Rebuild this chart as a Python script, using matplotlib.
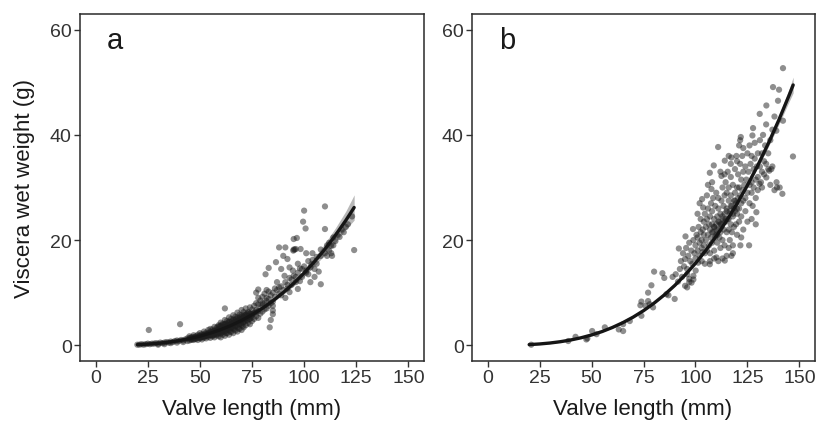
import matplotlib
matplotlib.use("Agg")
import matplotlib.pyplot as plt

plt.rcParams['font.family'] = ['Liberation Sans', 'DejaVu Sans']

# panel a: scatter (valve length mm, viscera wet weight g)
a_x = [20, 21, 22, 23, 24, 25, 26, 27, 28, 29, 30, 31, 32, 33, 34, 35, 36, 37, 38, 39, 40, 41, 42, 43, 44,
       30, 33, 36, 39, 42, 44, 25.5, 40.5,
       45, 45, 45, 46, 46, 47, 47, 47, 48, 48, 49, 49, 49, 50, 50, 50, 51, 51, 51, 52, 52, 52,
       53, 53, 53, 54, 54, 54, 55, 55, 55, 55, 56, 56, 56, 57, 57, 57, 57, 58, 58, 58,
       59, 59, 59, 59, 60, 60, 60, 60, 60, 61, 61, 61, 61, 62, 62, 62, 62, 62, 63, 63, 63, 63,
       64, 64, 64, 64, 64, 65, 65, 65, 65, 66, 66, 66, 66, 66, 67, 67, 67, 67, 68, 68, 68, 68, 68,
       69, 69, 69, 69, 70, 70, 70, 70, 70, 71, 71, 71, 71, 72, 72, 72, 72, 73, 73, 73, 74, 74, 74, 74,
       75, 75, 75, 76, 76, 76, 77, 77, 77, 78, 78, 78, 78, 79, 79, 79, 80, 80, 80, 81, 81, 81, 82, 82,
       83, 83, 83, 62,
       50.5, 51.5, 52.5, 53.5, 54.5, 55.5, 56.5, 57.5, 58.5, 59.5, 60.5, 61.5, 62.5, 63.5, 64.5, 65.5,
       66.5, 67.5, 68.5, 69.5, 70.5, 71.5, 72.5, 73.5, 74.5, 56.5, 58.5, 60.5, 62.5, 64.5, 66.5, 68.5, 70.5,
       45.25, 46.25, 47.25, 48.25, 49.25, 50.25, 51.25, 52.25, 53.25, 54.25, 55.25, 56.25, 57.25, 58.25,
       59.25, 60.25, 61.25, 62.25, 63.25, 64.25, 65.25, 66.25, 67.25, 68.25, 69.25, 70.25, 71.25, 72.25,
       73.25, 74.25, 75.25, 76.25, 77.25,
       45.75, 46.75, 47.75, 48.75, 49.75, 50.75, 51.75, 52.75, 53.75, 54.75, 55.75, 56.75, 57.75, 58.75,
       59.75, 60.75, 61.75, 62.75, 63.75, 64.75, 65.75, 66.75, 67.75, 68.75, 69.75, 70.75, 71.75, 72.75,
       73.75, 74.75,
       58.5, 59.5, 60.5, 61.5, 62.5, 63.5, 64.5, 65.5, 66.5, 67.5, 68.5, 69.5, 70.5, 71.5, 72.5, 73.5,
       77, 78, 81.5, 83, 86.5, 88, 91, 95, 96.5, 95, 96, 98.3, 100, 99.5, 100.7, 110, 110, 108, 124,
       113, 113.4, 103.5, 105, 83.5, 84, 85, 85, 85, 85, 90, 92, 90.6, 94.6, 97, 93, 87, 88, 89, 91,
       92, 94, 96, 98, 99, 101, 102, 104, 106, 107, 108, 112, 114, 116, 118, 120, 105, 103, 101, 97,
       93, 89, 86, 84, 82, 80, 82, 84, 85, 86, 87, 88, 89, 90, 91, 92, 93, 94, 95, 96, 97, 98, 99, 100,
       101, 102, 103, 104, 106, 108, 110, 111, 112, 113, 115, 117, 119, 121, 123, 111, 114, 95.5, 94.8]
a_y = [0.1, 0.1, 0.2, 0.1, 0.2, 0.3, 0.2, 0.3, 0.3, 0.4, 0.3, 0.5, 0.4, 0.5, 0.6, 0.5, 0.7, 0.6, 0.8, 0.9, 0.8, 1.0, 0.9, 1.1, 1.3,
       0.1, 0.2, 0.4, 0.5, 0.6, 0.8, 2.9, 4.0,
       0.9, 1.3, 1.7, 1.1, 1.5, 1.0, 1.4, 1.9, 1.2, 1.7, 1.0, 1.5, 2.0, 1.3, 1.8, 2.3, 1.1, 1.6, 2.1, 1.4, 2.0, 2.6,
       1.3, 1.8, 2.4, 1.6, 2.2, 2.9, 1.4, 2.0, 2.6, 3.1, 1.7, 2.4, 3.0, 1.5, 2.2, 2.8, 3.5, 1.9, 2.6, 3.3,
       1.7, 2.4, 3.0, 3.8, 1.5, 2.2, 2.9, 3.6, 4.3, 2.0, 2.7, 3.4, 4.1, 1.8, 2.6, 3.3, 4.0, 4.8, 2.3, 3.0, 3.8, 4.6,
       2.0, 2.9, 3.7, 4.5, 5.3, 2.5, 3.3, 4.1, 5.0, 2.3, 3.2, 4.0, 4.9, 5.7, 2.8, 3.7, 4.5, 5.4, 2.6, 3.5, 4.4, 5.3, 6.2,
       3.1, 4.0, 4.9, 5.8, 2.9, 3.9, 4.8, 5.7, 6.7, 3.4, 4.4, 5.4, 6.3, 3.8, 4.8, 5.8, 7.0, 4.2, 5.3, 6.3, 4.0, 5.0, 6.0, 7.2,
       4.6, 5.7, 6.8, 5.0, 6.2, 7.5, 5.5, 6.7, 8.0, 5.2, 6.5, 7.8, 9.0, 6.0, 7.2, 8.5, 6.4, 7.6, 9.2, 6.8, 8.0, 9.8, 7.0, 8.4,
       7.5, 8.8, 10.2, 7.0,
       1.5, 1.8, 1.7, 2.1, 1.9, 2.3, 2.7, 2.5, 3.0, 2.8, 3.3, 3.1, 3.6, 3.4, 4.0, 3.8, 4.4, 4.2, 4.8, 4.6, 5.2, 5.0, 5.6,
       5.4, 6.0, 1.9, 2.1, 2.4, 2.3, 2.6, 3.0, 3.2, 3.6,
       1.35, 1.45, 1.55, 1.6, 1.7, 1.8, 1.9, 2.05, 2.15, 2.25, 2.4, 2.5, 2.65, 2.8, 2.9, 3.05, 3.2, 3.35, 3.5,
       3.7, 3.85, 4.05, 4.2, 4.4, 4.6, 4.8, 5.0, 5.2, 5.45, 5.65, 5.9, 6.1, 6.35,
       1.05, 1.15, 1.25, 1.35, 1.45, 1.5, 1.6, 1.75, 1.85, 1.95, 1.9, 2.0, 2.15, 2.3, 2.4, 2.55, 2.7, 2.9, 3.05,
       3.2, 3.4, 3.55, 3.75, 3.95, 4.15, 4.35, 4.55, 4.75, 5.0, 5.2,
       3.5, 3.65, 3.8, 3.95, 4.1, 4.25, 4.4, 4.6, 4.8, 5.0, 5.15, 5.35, 5.55, 5.75, 6.0, 6.2,
       10.0, 10.6, 13.5, 14.7, 15.8, 18.6, 18.6, 20.2, 20.4, 18.2, 18.3, 18.3, 25.6, 23.5, 22.2, 26.4, 22.1, 11.6, 18.1,
       18.9, 17.0, 15.4, 14.5, 3.4, 4.8, 5.9, 6.6, 7.5, 8.3, 17.0, 16.4, 13.2, 14.2, 10.7, 10.1, 12.0, 11.0, 9.5, 9.0,
       11.5, 12.5, 13.0, 12.2, 14.5, 13.8, 16.0, 17.5, 15.5, 14.0, 17.0, 19.5, 20.5, 21.0, 22.0, 22.5, 13.0, 12.0, 17.5, 15.5,
       14.8, 14.5, 10.8, 9.5, 10.5, 8.0, 9.0, 8.0, 10.0, 9.2, 10.5, 9.8, 11.2, 10.5, 12.0, 10.8, 12.8, 11.5, 13.2, 12.0, 13.8, 14.6, 13.0, 15.0,
       14.2, 13.5, 14.8, 16.2, 16.8, 18.2, 17.5, 19.0, 18.0, 17.5, 19.8, 20.6, 21.5, 23.0, 24.5, 17.0, 19.0, 18.2, 18.0]

# panel a: fitted curve and confidence band
a_fit_x = [20, 25, 30, 35, 40, 45, 50, 55, 60, 65, 70, 75, 80, 85, 90, 95, 100, 105, 110, 115, 120, 124]
a_fit_y = [0.11, 0.21, 0.37, 0.59, 0.88, 1.25, 1.72, 2.29, 2.97, 3.77, 4.71, 5.80, 7.03, 8.44, 10.02, 11.78,
           13.74, 15.91, 18.29, 20.90, 23.74, 26.2]
a_lo = [0.0, 0.1, 0.27, 0.49, 0.78, 1.15, 1.62, 2.19, 2.87, 3.67, 4.6, 5.65, 6.8, 8.15, 9.65, 11.3,
        13.1, 15.1, 17.2, 19.5, 22.0, 23.8]
a_hi = [0.22, 0.32, 0.47, 0.69, 0.98, 1.35, 1.82, 2.39, 3.07, 3.87, 4.82, 5.95, 7.26, 8.73, 10.4, 12.26,
        14.38, 16.72, 19.38, 22.3, 25.5, 28.6]

# panel b: scatter
b_x = [21, 38.8, 42.3, 48, 47.5, 50.3, 52.4, 56.4, 63.1, 65.2, 65.2, 68.4, 74, 74, 73.5, 77.2, 77.2, 76, 78.8, 79.6,
       78, 80.1, 84.1, 85, 86, 87, 90, 91.6, 92, 95.2, 95, 95, 96, 98.1, 97, 98.8, 100.1, 99, 103.2, 103.7,
       106.9, 108.8, 107.7, 110.9, 112.5, 114.1, 117.3, 119.7, 121.8, 121.5, 127.4, 127.7, 130.9, 134.1, 137.3,
       140.2, 142.1, 139.7, 142.1, 138.9, 146.9, 140.5, 141.8, 139.2, 136.5, 135.5, 134.1, 130.8, 129.3, 125.8,
       121.6, 117.3, 114.1, 110.1, 106.9, 103.4, 101.3,
       93, 94, 94.5, 95.5, 96, 96.5, 97, 97.5, 98, 98.5, 99, 99.5, 100, 100, 100.5, 96, 97, 99, 93.5, 92.5, 90.5, 89,
       101, 101, 101.5, 102, 102, 102.5, 102.5, 103, 103, 103.5, 104, 104, 104, 104.5, 104.5, 105, 105, 101, 102, 103, 104.5,
       105.5, 105.5, 106, 106, 106.5, 106.5, 107, 107, 107, 107.5, 107.5, 108, 108, 108, 108.5, 108.5, 109, 109, 109,
       109.5, 109.5, 110, 110, 110, 105.5, 106, 108, 109, 107,
       110.5, 110.5, 111, 111, 111, 111.5, 111.5, 112, 112, 112, 112.5, 112.5, 113, 113, 113, 113.5, 113.5, 114, 114, 114,
       114.5, 114.5, 115, 115, 115, 112, 113, 115, 111, 114,
       115.5, 115.5, 116, 116, 116, 116.5, 116.5, 117, 117, 117, 117.5, 117.5, 118, 118, 118, 118.5, 118.5, 119, 119, 119,
       119.5, 119.5, 120, 120, 120, 116, 118, 120, 117, 116,
       120.5, 120.5, 121, 121, 121, 121.5, 121.5, 122, 122, 122, 122.5, 122.5, 123, 123, 123, 123.5, 124, 124, 124, 124.5,
       125, 125, 125, 121, 123, 122,
       125.5, 126, 126, 126, 126.5, 127, 127, 127, 127.5, 128, 128, 128.5, 128.5, 129, 129, 129.5, 130, 130, 130, 129, 127,
       131, 131, 131.5, 132, 132, 132.5, 133, 133, 133.5, 134, 134, 135, 135, 136, 137, 137, 138, 136, 132, 138, 139,
       108, 109, 110, 111, 112, 113, 114, 115, 116, 117, 118, 119, 120, 110.5, 112.5, 114.5, 116.5, 118.5]
b_y = [0.1, 0.8, 1.6, 1.3, 1.1, 2.7, 2.1, 3.4, 3.0, 2.7, 4.0, 4.6, 5.6, 8.3, 7.6, 10.0, 8.4, 7.5, 11.4, 7.2,
       7.8, 14.0, 13.7, 12.8, 9.7, 9.5, 8.8, 12.1, 18.4, 20.7, 16.4, 11.3, 11.0, 11.9, 12.6, 22.1, 14.2, 13.2, 27.8, 26.2,
       32.8, 34.2, 29.7, 37.7, 32.2, 35.1, 35.7, 36.0, 39.6, 39.0, 39.9, 41.3, 44.0, 45.6, 49.1,
       48.6, 52.7, 46.5, 42.7, 40.8, 35.9, 30.0, 28.8, 30.0, 33.5, 33.2, 31.9, 30.7, 25.3, 19.0,
       19.0, 17.0, 16.1, 16.7, 15.4, 17.7, 15.7,
       16.0, 17.5, 15.0, 18.5, 14.5, 17.0, 19.5, 16.0, 18.0, 15.5, 20.0, 17.5, 19.0, 16.5, 21.0, 13.5, 12.0, 12.5, 13.0, 14.5, 13.5, 13.0,
       18.0, 20.5, 22.5, 17.0, 19.5, 21.5, 24.0, 18.5, 20.0, 22.0, 19.0, 21.0, 23.5, 17.5, 25.0, 20.0, 22.5, 25.0, 27.0, 16.0, 15.5,
       18.0, 24.0, 21.0, 26.0, 19.0, 23.0, 22.0, 24.5, 17.5, 20.5, 27.0, 23.0, 19.5, 25.5, 21.5, 28.0, 22.5, 24.0, 18.0,
       20.5, 26.5, 23.0, 21.0, 29.0, 28.5, 30.5, 31.0, 16.5, 16.0,
       24.5, 19.5, 22.0, 26.0, 28.0, 20.5, 23.5, 25.0, 21.5, 18.5, 27.5, 23.0, 24.0, 20.0, 30.0, 22.0, 26.5, 25.0, 28.5, 19.0,
       23.5, 31.0, 21.5, 26.0, 29.0, 33.0, 16.5, 17.0, 16.0, 32.5,
       24.0, 33.0, 22.0, 27.5, 30.0, 20.0, 25.5, 23.0, 28.5, 32.0, 21.5, 26.5, 24.5, 30.5, 19.0, 27.5, 22.5, 25.5, 29.0, 33.5,
       23.0, 27.0, 30.0, 25.0, 21.0, 18.5, 17.5, 35.0, 34.5, 36.0,
       28.0, 32.5, 26.0, 23.5, 30.0, 34.5, 28.5, 27.0, 24.5, 31.5, 29.5, 36.0, 27.5, 33.0, 22.0, 30.5, 28.0, 25.5, 34.0, 31.5,
       29.0, 36.5, 23.5, 38.0, 37.5, 20.5,
       33.0, 30.5, 27.0, 38.0, 34.5, 31.0, 29.0, 36.0, 26.5, 33.5, 30.0, 35.5, 38.5, 31.5, 28.0, 34.0, 36.5, 32.0, 29.5, 23.0, 24.0,
       34.0, 39.0, 31.0, 36.5, 33.0, 40.0, 35.0, 32.5, 38.0, 34.5, 42.0, 36.5, 33.5, 39.0, 41.0, 34.0, 43.5, 30.5, 30.0, 29.5, 31.0,
       21.5, 22.5, 22.0, 23.5, 23.0, 24.5, 23.5, 25.5, 24.0, 26.5, 25.0, 27.5, 26.0, 21.0, 22.5, 24.0, 25.0, 26.0]

# panel b: fitted curve and confidence band
b_fit_x = [20, 25, 30, 35, 40, 45, 50, 55, 60, 65, 70, 75, 80, 85, 90, 95, 100, 105, 110, 115, 120, 125,
           130, 135, 140, 145, 147]
b_fit_y = [0.12, 0.24, 0.42, 0.67, 1.0, 1.42, 1.95, 2.59, 3.37, 4.28, 5.34, 6.57, 7.98, 9.57, 11.36, 13.36,
           15.58, 18.04, 20.74, 23.69, 26.92, 30.43, 34.23, 38.34, 42.75, 47.5, 49.5]
b_lo = [0.02, 0.14, 0.32, 0.57, 0.9, 1.32, 1.85, 2.49, 3.27, 4.18, 5.24, 6.47, 7.88, 9.47, 11.26, 13.26,
        15.48, 17.94, 20.6, 23.5, 26.7, 30.1, 33.8, 37.7, 41.9, 46.3, 48.0]
b_hi = [0.22, 0.34, 0.52, 0.77, 1.1, 1.52, 2.05, 2.69, 3.47, 4.38, 5.44, 6.67, 8.08, 9.67, 11.46, 13.46,
        15.68, 18.14, 20.9, 23.9, 27.15, 30.75, 34.65, 38.95, 43.6, 48.7, 51.0]

tick_col = '#333333'
text_col = '#1a1a1a'


def draw_panel(ax, xs, ys, fx, fy, lo, hi, letter):
    ax.fill_between(fx, lo, hi, color='#b8b8b8', lw=0, zorder=1)
    ax.scatter(xs, ys, s=20, color='#1e1e1e', alpha=0.5, edgecolors='none', zorder=2)
    ax.plot(fx, fy, color='#151515', lw=2.4, solid_capstyle='round', zorder=3)
    ax.set_xlim(-7.5, 157.5)
    ax.set_ylim(-3, 63)
    ax.set_xticks([0, 25, 50, 75, 100, 125, 150])
    ax.set_yticks([0, 20, 40, 60])
    ax.tick_params(direction='out', length=4, width=1, color=tick_col, labelcolor=tick_col,
                   labelsize=14, pad=2)
    for sp in ax.spines.values():
        sp.set_color('#2a2a2a')
        sp.set_linewidth(1.1)
    ax.text(0.078, 0.925, letter, transform=ax.transAxes, fontsize=21, color=text_col,
            ha='left', va='center')


fig = plt.figure(figsize=(8.19, 4.27), dpi=100)
ax1 = fig.add_axes([80 / 819, 1 - 362 / 427, 344 / 819, 347 / 427])
ax2 = fig.add_axes([472 / 819, 1 - 362 / 427, 343 / 819, 347 / 427])

draw_panel(ax1, a_x, a_y, a_fit_x, a_fit_y, a_lo, a_hi, 'a')
draw_panel(ax2, b_x, b_y, b_fit_x, b_fit_y, b_lo, b_hi, 'b')

fig.text(252 / 819, 1 - 410 / 427, 'Valve length (mm)', ha='center', va='center', fontsize=16, color=text_col)
fig.text(643 / 819, 1 - 410 / 427, 'Valve length (mm)', ha='center', va='center', fontsize=16, color=text_col)
fig.text(25 / 819, 1 - 188 / 427, 'Viscera wet weight (g)', ha='center', va='center', rotation=90,
         fontsize=16, color=text_col)

fig.savefig('out.png', dpi=100)
